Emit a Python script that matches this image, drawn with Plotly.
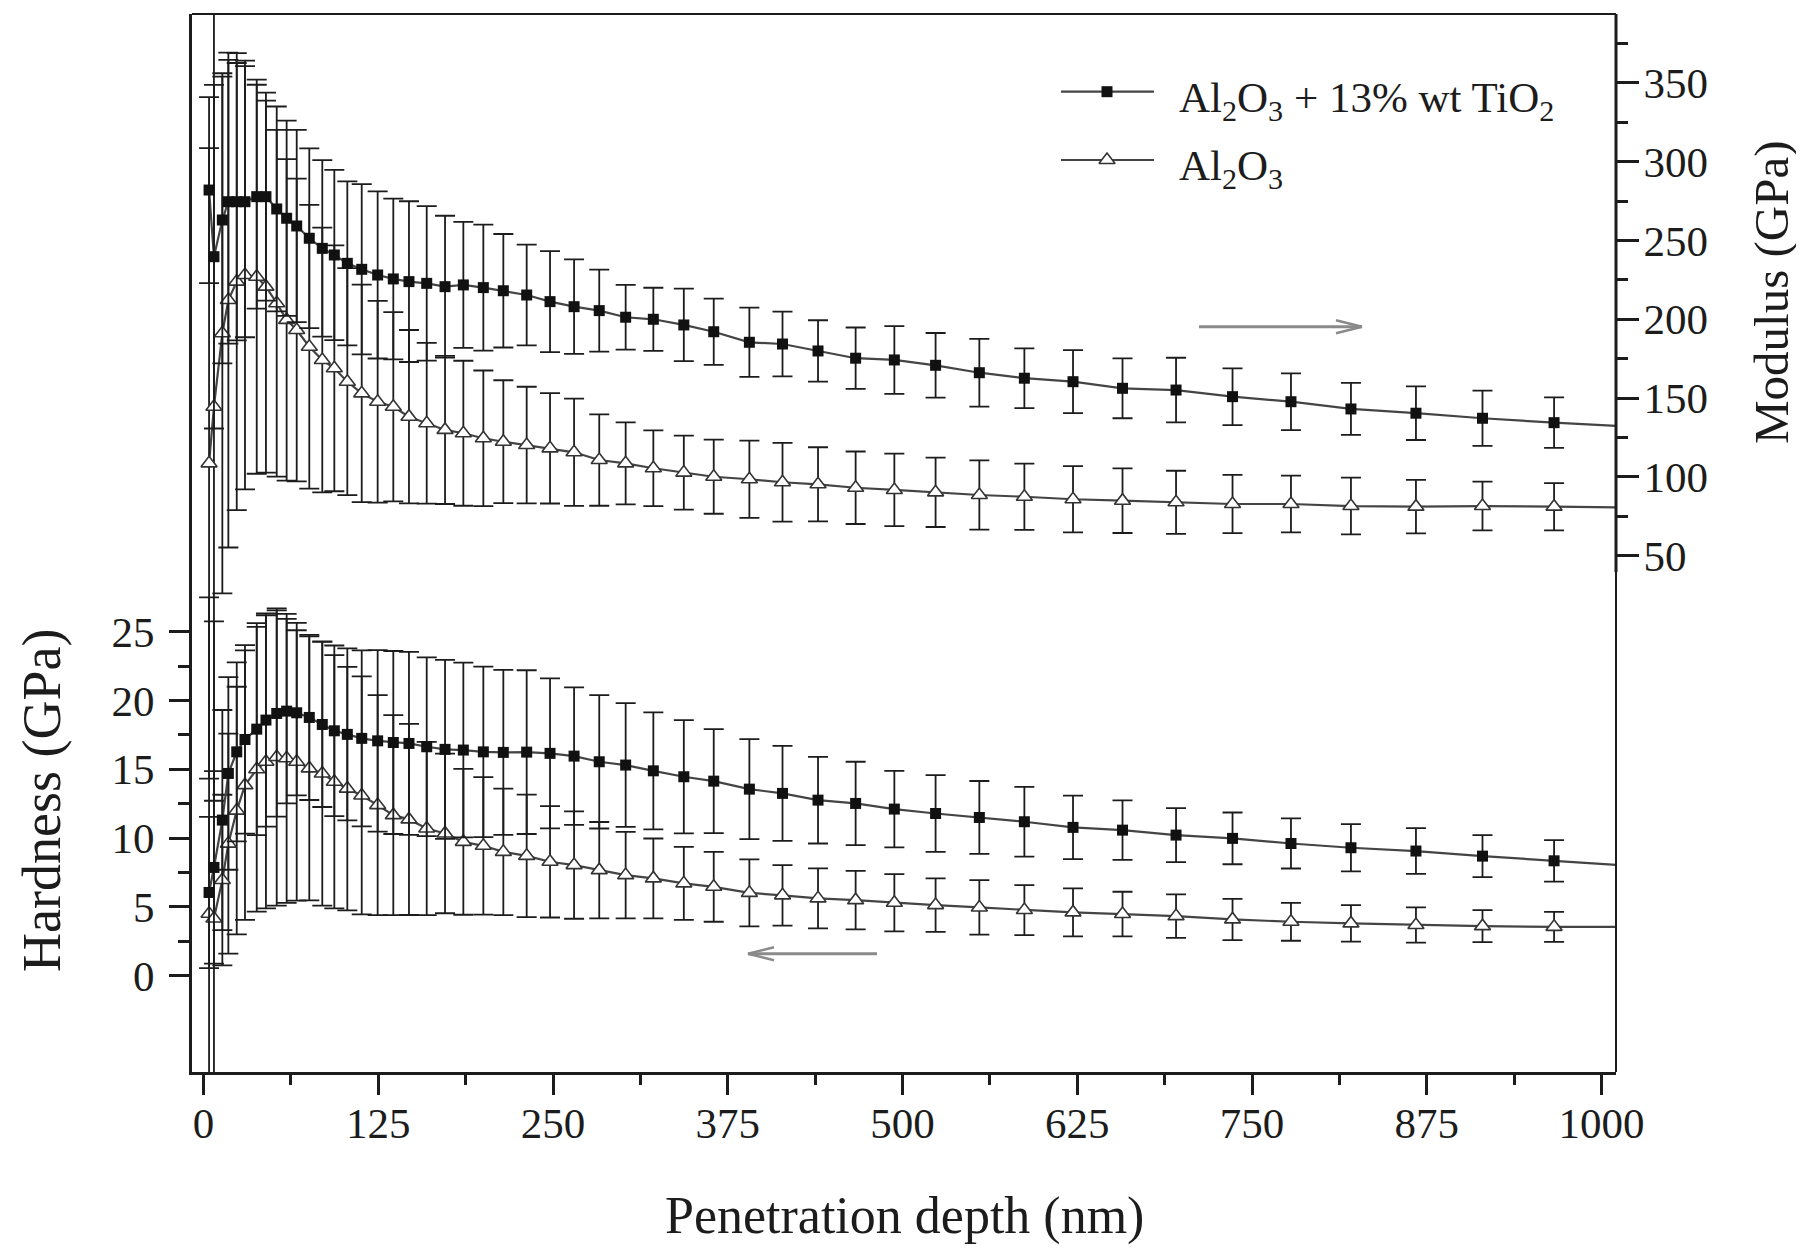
import plotly.graph_objects as go

# ---------------- data ----------------
depth = [3.9, 7.4, 13.4, 17.7, 23.7, 29.6, 38.0, 44.6, 52.3, 59.4,
         66.6, 75.6, 84.9, 93.5, 102.8, 113.1, 124.5, 135.7, 146.9, 159.6,
         172.7, 185.8, 200.1, 214.4, 231.1, 247.8, 265.0, 283.0, 301.9, 321.7,
         343.5, 364.9, 390.4, 414.1, 439.5, 466.4, 494.1, 523.6, 554.9, 587.1,
         621.9, 657.3, 695.6, 736.0, 777.8, 820.7, 867.2, 914.8, 966.0]
depth_line_end = 1012.0

# Modulus (GPa) - Al2O3 + 13% wt TiO2
mod_tio2 = [282.0, 239.7, 263.0, 274.6, 274.6, 274.6, 277.8, 277.8, 270.0, 264.1,
            259.2, 251.4, 245.0, 240.8, 235.5, 231.7, 228.1, 225.6, 223.9, 222.8,
            220.7, 221.8, 220.1, 218.1, 215.4, 211.2, 208.0, 205.5, 201.3, 200.0,
            196.4, 192.1, 185.4, 184.3, 179.9, 175.3, 174.2, 170.8, 166.1, 162.6,
            160.4, 156.2, 155.1, 150.9, 147.7, 143.1, 140.4, 137.2, 134.4]
mod_tio2_err = [59, 109, 91, 90, 88, 86, 71, 66, 65, 62,
                61, 57, 56, 54, 52, 54, 53, 51, 51, 49,
                45, 40, 40, 36, 32, 32, 30, 26, 20.5, 20,
                23, 21, 22, 20.5, 19.5, 19.5, 21.5, 20.5, 21.5, 19,
                20, 19, 20.5, 18, 18, 16.5, 17, 17.5, 16]
mod_tio2_end = 132.3

# Modulus (GPa) - Al2O3
mod_al2o3 = [108.6, 144.5, 191.1, 212.2, 223.9, 228.1, 227.0, 220.7, 210.2, 199.6,
             193.2, 182.6, 174.2, 168.9, 160.4, 153.0, 147.7, 144.5, 138.2, 134.0,
             129.8, 127.7, 124.5, 122.3, 120.2, 118.1, 115.6, 110.7, 108.6, 105.5,
             102.7, 100.1, 98.5, 96.6, 95.3, 93.1, 91.7, 90.2, 88.5, 87.4,
             85.8, 84.9, 83.9, 82.8, 82.8, 81.5, 81.1, 81.5, 81.1]
mod_al2o3_err = [200, 250, 165, 157, 145, 136, 125, 118, 110, 102,
                 96, 90, 84, 78, 72, 69, 64, 60, 55, 51,
                 47, 46, 43, 39, 37, 35, 34, 29, 26, 24,
                 23.5, 23.5, 24.5, 25, 23.5, 23, 23, 22, 22, 21,
                 21, 20.5, 20, 18.5, 18, 18, 17, 15.5, 15]
mod_al2o3_end = 80.7

# Hardness (GPa) - Al2O3 + 13% wt TiO2
hard_tio2 = [6.05, 7.87, 11.31, 14.70, 16.27, 17.17, 17.92, 18.58, 19.06, 19.23,
             19.11, 18.77, 18.26, 17.80, 17.54, 17.25, 17.07, 16.95, 16.88, 16.64,
             16.45, 16.40, 16.27, 16.23, 16.25, 16.16, 15.96, 15.55, 15.31, 14.89,
             14.46, 14.14, 13.56, 13.25, 12.76, 12.52, 12.11, 11.79, 11.50, 11.19,
             10.78, 10.58, 10.22, 9.98, 9.61, 9.30, 9.06, 8.69, 8.35]
hard_tio2_err = [5.5, 7, 8, 7, 6.5, 6.85, 7.7, 7.75, 7.5, 6.7,
                 6.0, 6.0, 6.0, 6.2, 6.25, 6.4, 6.6, 6.65, 6.65, 6.5,
                 6.5, 6.35, 6.2, 6.0, 5.95, 5.45, 5.0, 4.85, 4.5, 4.25,
                 4.12, 3.78, 3.63, 3.45, 3.15, 3.03, 2.78, 2.79, 2.65, 2.54,
                 2.31, 2.16, 1.96, 1.88, 1.82, 1.72, 1.66, 1.53, 1.51]
hard_tio2_end = 8.04

# Hardness (GPa) - Al2O3
hard_al2o3 = [4.5, 4.16, 6.95, 9.6, 12.0, 13.85, 15.0, 15.55, 15.9, 15.8,
              15.55, 15.07, 14.7, 14.1, 13.6, 13.1, 12.4, 11.67, 11.36, 10.7,
              10.34, 9.73, 9.44, 9.0, 8.71, 8.28, 8.04, 7.67, 7.31, 7.07,
              6.71, 6.46, 6.02, 5.84, 5.62, 5.49, 5.30, 5.13, 4.96, 4.77,
              4.60, 4.48, 4.33, 4.09, 3.92, 3.80, 3.68, 3.60, 3.55]
hard_al2o3_err = [23, 21.6, 6.2, 8, 9, 9.8, 10.35, 10.65, 10.8, 10.5,
                  10.1, 9.6, 9.6, 9.2, 8.85, 8.65, 8.0, 7.27, 6.95, 6.3,
                  5.8, 5.3, 5.0, 4.6, 4.45, 4.05, 3.9, 3.5, 3.15, 2.9,
                  2.66, 2.54, 2.43, 2.2, 2.18, 2.13, 2.08, 1.94, 1.98, 1.82,
                  1.74, 1.62, 1.58, 1.5, 1.38, 1.33, 1.28, 1.16, 1.09]
hard_al2o3_end = 3.55

# tick labels
x_ticks = [0, 125, 250, 375, 500, 625, 750, 875, 1000]
x_minor = [62.5, 187.5, 312.5, 437.5, 562.5, 687.5, 812.5, 937.5]
hard_ticks = [0, 5, 10, 15, 20, 25]
hard_minor = [2.5, 7.5, 12.5, 17.5, 22.5]
mod_ticks = [50, 100, 150, 200, 250, 300, 350]
mod_minor = [75, 125, 175, 225, 275, 325, 375]

series_names = ["Al<sub>2</sub>O<sub>3</sub> + 13% wt TiO<sub>2</sub>",
                "Al<sub>2</sub>O<sub>3</sub>"]

# ---------------- layout geometry / style ----------------
W, H = 1804, 1248
PAGE_OFF = 8                       # default body margin of the html page
PX0, PX1, PY0, PY1 = 192, 1616, 14, 1072   # plot area in page pixels
L = PX0 - PAGE_OFF
T = PY0 - PAGE_OFF
R = W - (PX1 - PAGE_OFF)
B = H - (PY1 - PAGE_OFF)
FONT = "Liberation Serif, Times New Roman, serif"
INK = "#1c1c1c"
LINEC = "#444444"
ARROWC = "#8a8a8a"

sq_marker = dict(symbol="square", size=11, color="#111111", line=dict(width=0))
tri_marker = dict(symbol="triangle-up", size=14, color="white",
                  line=dict(color="#333333", width=1.6))

fig = go.Figure()


def add_series(y, err, yend, axis, marker):
    fig.add_trace(go.Scatter(x=depth + [depth_line_end], y=y + [yend], mode="lines",
                             line=dict(color=LINEC, width=2.2), yaxis=axis,
                             hoverinfo="skip", showlegend=False))
    fig.add_trace(go.Scatter(x=depth, y=y, mode="markers", marker=marker, yaxis=axis,
                             error_y=dict(type="data", array=err, visible=True,
                                          color=INK, thickness=1.8, width=10),
                             showlegend=False))


add_series(hard_al2o3, hard_al2o3_err, hard_al2o3_end, "y", tri_marker)
add_series(hard_tio2, hard_tio2_err, hard_tio2_end, "y", sq_marker)
add_series(mod_al2o3, mod_al2o3_err, mod_al2o3_end, "y2", tri_marker)
add_series(mod_tio2, mod_tio2_err, mod_tio2_end, "y2", sq_marker)

# ---------------- manual legend (pixel axes x3/y3) ----------------
leg_rows = [91.7, 160.0]
leg_x0, leg_x1, leg_xm, leg_text_x = 1061, 1154, 1107, 1177
for row_y, mk in zip(leg_rows, [sq_marker, tri_marker]):
    fig.add_trace(go.Scatter(x=[leg_x0, leg_x1], y=[row_y, row_y], mode="lines",
                             line=dict(color=LINEC, width=2.2), xaxis="x3", yaxis="y3",
                             hoverinfo="skip", showlegend=False))
    fig.add_trace(go.Scatter(x=[leg_xm], y=[row_y], mode="markers", marker=mk,
                             xaxis="x3", yaxis="y3", hoverinfo="skip", showlegend=False))


def px(xp):
    return (xp - PX0) / (PX1 - PX0)


def py(yp):
    return (PY1 - yp) / (PY1 - PY0)


annotations = []
for row_y, name in zip(leg_rows, series_names):
    annotations.append(dict(x=px(leg_text_x), y=py(row_y + 9), xref="paper", yref="paper",
                            text=name, showarrow=False, xanchor="left", yanchor="middle",
                            font=dict(family=FONT, size=43, color=INK)))
annotations += [
    dict(x=px(904), y=py(1216), xref="paper", yref="paper", text="Penetration depth (nm)",
         showarrow=False, xanchor="center", yanchor="middle",
         font=dict(family=FONT, size=52, color=INK)),
    dict(x=px(42), y=py(801), xref="paper", yref="paper", text="Hardness (GPa)",
         showarrow=False, textangle=-90, xanchor="center", yanchor="middle",
         font=dict(family=FONT, size=54, color=INK)),
    dict(x=px(1772), y=py(292), xref="paper", yref="paper", text="Modulus (GPa)",
         showarrow=False, textangle=-90, xanchor="center", yanchor="middle",
         font=dict(family=FONT, size=49, color=INK)),
]

shapes = [
    # frame: top and right
    dict(type="line", xref="paper", yref="paper", x0=0, x1=1, y0=1, y1=1,
         line=dict(color=INK, width=2)),
    dict(type="line", xref="paper", yref="paper", x0=1, x1=1, y0=0, y1=1,
         line=dict(color=INK, width=2)),
    # modulus axis line (upper right part)
    dict(type="line", xref="paper", yref="y2", x0=1, x1=1, y0=39.6, y1=393.7,
         line=dict(color=INK, width=3)),
]
# direction arrows (page pixel coordinates)
arrow_specs = [((1199, 326.7), (1362, 326.7)), ((877, 953.8), (748, 953.8))]
for (xa, ya), (xb, yb) in arrow_specs:
    d = 1 if xb > xa else -1
    shapes.append(dict(type="line", xref="x3", yref="y3", x0=xa, y0=ya, x1=xb, y1=yb,
                       line=dict(color=ARROWC, width=3)))
    for s in (-1, 1):
        shapes.append(dict(type="line", xref="x3", yref="y3", x0=xb - d * 26, y0=yb + s * 6.5,
                           x1=xb, y1=yb, line=dict(color=ARROWC, width=2.5)))

tick_font = dict(family=FONT, size=43, color=INK)
fig.update_layout(
    width=W, height=H,
    margin=dict(l=L, r=R, t=T, b=B, autoexpand=False),
    paper_bgcolor="white", plot_bgcolor="white", showlegend=False,
    font=dict(family=FONT, size=43, color=INK),
    xaxis=dict(range=[-8.3, 1010.3], tickmode="array", tickvals=x_ticks,
               ticktext=[str(v) for v in x_ticks], ticks="outside", ticklen=20, tickwidth=3,
               tickcolor=INK, showline=True, linewidth=3, linecolor=INK, showgrid=False,
               zeroline=False, tickfont=tick_font, ticklabelstandoff=-9,
               minor=dict(tickmode="array", tickvals=x_minor, ticks="outside", ticklen=10,
                          tickwidth=3, tickcolor=INK, showgrid=False)),
    yaxis=dict(range=[-7.0, 69.9], tickmode="array", tickvals=hard_ticks,
               ticktext=[str(v) for v in hard_ticks], ticks="outside", ticklen=20,
               tickwidth=3, tickcolor=INK, showline=True, linewidth=3, linecolor=INK,
               showgrid=False, zeroline=False, tickfont=tick_font, ticklabelstandoff=6,
               minor=dict(tickmode="array", tickvals=hard_minor, ticks="outside", ticklen=11,
                          tickwidth=3, tickcolor=INK, showgrid=False)),
    yaxis2=dict(range=[-277.6, 393.7], overlaying="y", side="right", anchor="x",
                tickmode="array", tickvals=mod_ticks, ticktext=[str(v) for v in mod_ticks],
                ticks="outside", ticklen=22, tickwidth=3, tickcolor=INK, showline=False,
                showgrid=False, zeroline=False, tickfont=tick_font, ticklabelstandoff=-4,
                minor=dict(tickmode="array", tickvals=mod_minor, ticks="outside", ticklen=11,
                           tickwidth=3, tickcolor=INK, showgrid=False)),
    xaxis3=dict(overlaying="x", anchor="y3", range=[PX0, PX1], visible=False,
                fixedrange=True),
    yaxis3=dict(overlaying="y", anchor="x3", range=[PY1, PY0], visible=False,
                fixedrange=True),
    annotations=annotations,
    shapes=shapes,
)

fig.write_html("out.html")
